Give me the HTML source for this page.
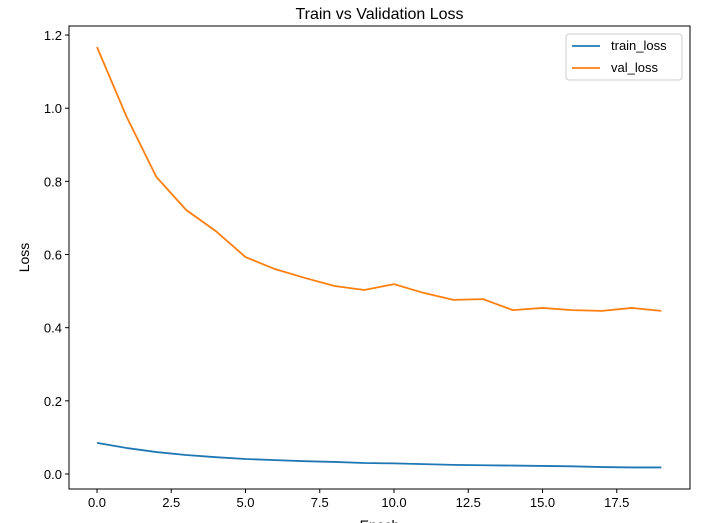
<!DOCTYPE html>
<html><head><meta charset="utf-8"><style>
body{margin:0;background:#fff;}
svg{display:block;font-family:"Liberation Sans","DejaVu Sans",sans-serif;}
</style></head><body>
<svg id="chart" width="720" height="523"></svg>
<script>
const epochs=[0,1,2,3,4,5,6,7,8,9,10,11,12,13,14,15,16,17,18,19];
const trainLoss=[0.085,0.071,0.060,0.052,0.046,0.041,0.038,0.035,0.033,0.030,0.029,0.027,0.025,0.024,0.023,0.022,0.021,0.019,0.018,0.018];
const valLoss=[1.167,0.976,0.812,0.722,0.664,0.593,0.560,0.536,0.514,0.503,0.519,0.495,0.476,0.478,0.448,0.454,0.448,0.446,0.454,0.446];
const xTicks=[0,2.5,5,7.5,10,12.5,15,17.5];
const xTickLabels=["0.0","2.5","5.0","7.5","10.0","12.5","15.0","17.5"];
const yTicks=[0,0.2,0.4,0.6,0.8,1.0,1.2];
const yTickLabels=["0.0","0.2","0.4","0.6","0.8","1.0","1.2"];
const NS="http://www.w3.org/2000/svg";
const svg=document.getElementById('chart');
const L=69,T=26,R=690,B=489;
const xS=v=>97+v*29.7;
const yS=v=>474-v*365.8;
function mk(tag,attrs,text){const e=document.createElementNS(NS,tag);for(const k in attrs)e.setAttribute(k,attrs[k]);if(text!==undefined)e.textContent=text;svg.appendChild(e);return e;}
let e;
e=mk('rect',{x:L,y:T,width:R-L,height:B-T,fill:'none',stroke:'#000','stroke-width':1});


e=mk('text',{x:(L+R)/2,y:19,'text-anchor':'middle','font-size':16},'Train vs Validation Loss');


xTicks.forEach((t,i)=>{const x=xS(t);
mk('line',{x1:x,x2:x,y1:B,y2:B+4,stroke:'#000'});
e=mk('text',{x:x,y:B+18,'text-anchor':'middle','font-size':13},xTickLabels[i]);

});
yTicks.forEach((t,i)=>{const y=yS(t);
mk('line',{x1:L-4,x2:L,y1:y,y2:y,stroke:'#000'});
e=mk('text',{x:L-7,y:y+5,'text-anchor':'end','font-size':13},yTickLabels[i]);

});
e=mk('text',{x:(L+R)/2,y:530,'text-anchor':'middle','font-size':14},'Epoch');


e=mk('text',{x:29,y:(T+B)/2,'text-anchor':'middle','font-size':14,transform:'rotate(-90 29 '+(T+B)/2+')'},'Loss');


function line(vals,color,name){const d=vals.map((v,i)=>(i?'L':'M')+xS(epochs[i])+','+yS(v)).join(' ');
const p=mk('path',{d:d,fill:'none',stroke:color,'stroke-width':1.8});

}
line(trainLoss,'#1f77b4','train-loss-line');
line(valLoss,'#ff7f0e','val-loss-line');
e=mk('rect',{x:566,y:34,width:116,height:46,fill:'#fff',stroke:'#ccc',rx:3});


mk('line',{x1:572,x2:600,y1:46,y2:46,stroke:'#1f77b4','stroke-width':1.8});
e=mk('text',{x:611,y:50,'font-size':13},'train_loss');


mk('line',{x1:572,x2:600,y1:68,y2:68,stroke:'#ff7f0e','stroke-width':1.8});
e=mk('text',{x:611,y:72,'font-size':13},'val_loss');


</script>
</body></html>
